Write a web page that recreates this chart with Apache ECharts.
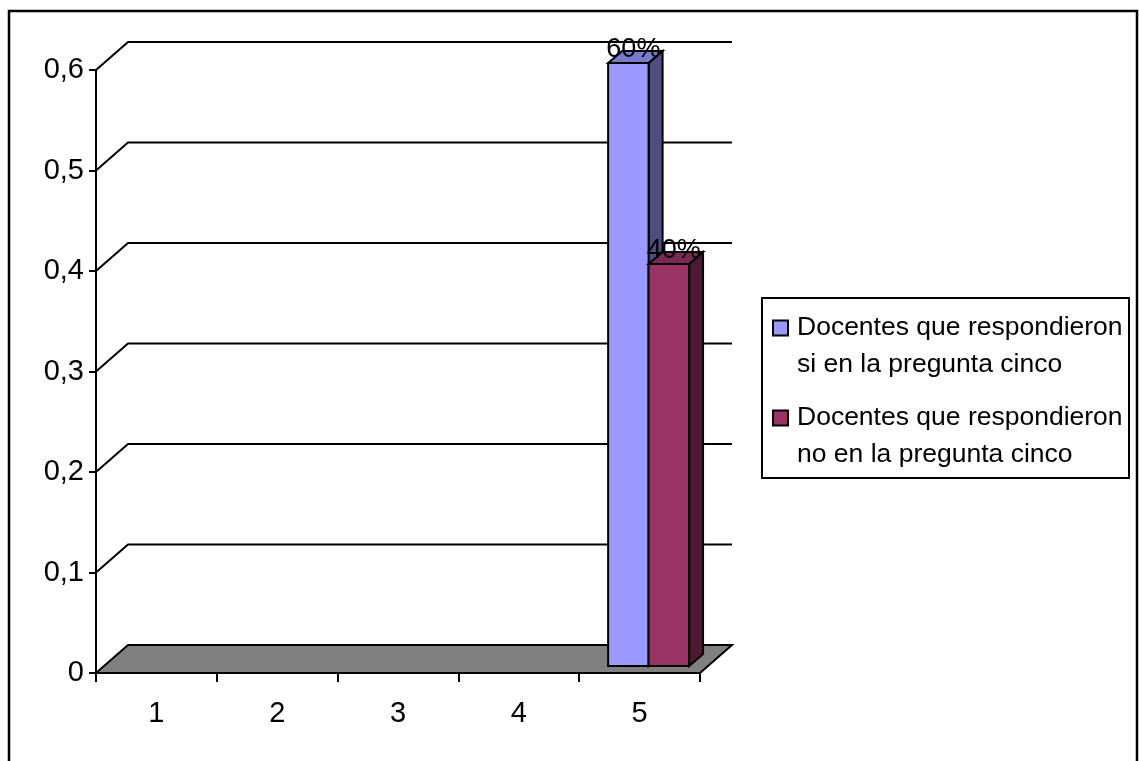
<!DOCTYPE html>
<html><head><meta charset="utf-8">
<script src="https://cdn.jsdelivr.net/npm/echarts@6/dist/echarts.min.js"></script>
<style>html,body{margin:0;padding:0;background:#fff}#c{width:1139px;height:761px}</style>
</head><body><div id="c"></div>
<script>
// ---- data ----
const categories = ['1', '2', '3', '4', '5'];
const seriesNames = ['Docentes que respondieron si en la pregunta cinco', 'Docentes que respondieron no en la pregunta cinco'];
const legendLines = [['Docentes que respondieron', 'si en la pregunta cinco'], ['Docentes que respondieron', 'no en la pregunta cinco']];
const siValues = [0, 0, 0, 0, 0.6];
const noValues = [0, 0, 0, 0, 0.4];
const yTickValues = [0, 0.1, 0.2, 0.3, 0.4, 0.5, 0.6];

// ---- style ----
const FONT = '"Liberation Sans", Arial, sans-serif';
const palettes = [
  { front: '#9999FF', top: '#7A7ACC', side: '#4D4D80' },
  { front: '#993366', top: '#7A2952', side: '#4D1A33' }
];
const WALL = [32, -28];
const BAR_OFF = [8, -7];
const BAR_D = [14, -12];
const BAR_FRAC = 0.335;

function fmtY(v) { return v === 0 ? '0' : v.toFixed(1).replace('.', ','); }
function fmtPct(v) { return Math.round(v * 100) + '%'; }

function renderWalls(params, api) {
  const cs = params.coordSys;
  const v = api.value(1);
  const y = api.coord([0, v])[1];
  const x0 = cs.x, x1 = cs.x + cs.width;
  if (v === 0) {
    return {
      type: 'polygon',
      shape: { points: [[x0, y], [x0 + WALL[0], y + WALL[1]], [x1 + WALL[0], y + WALL[1]], [x1, y]] },
      style: { fill: '#808080', stroke: '#000', lineWidth: 2 }
    };
  }
  return {
    type: 'polyline',
    shape: { points: [[x0, y], [x0 + WALL[0], y + WALL[1]], [x1 + WALL[0], y + WALL[1]]] },
    style: { fill: null, stroke: '#000', lineWidth: 2 }
  };
}

function makeBarRenderer(si) {
  return function (params, api) {
    const idx = api.value(0), v = api.value(1);
    if (!v) return null;
    const c = api.coord([idx, v]);
    const base = api.coord([idx, 0]);
    const band = api.size([1, 0])[0];
    const w = band * BAR_FRAC;
    const L = c[0] - w + si * w + BAR_OFF[0] + 1;
    const R = L + w;
    const yt = c[1] + BAR_OFF[1];
    const yb = base[1] + BAR_OFF[1];
    const p = palettes[si];
    const st = { stroke: '#000', lineWidth: 2, lineJoin: 'miter' };
    return {
      type: 'group',
      children: [
        { type: 'polygon', shape: { points: [[R, yt], [R + BAR_D[0], yt + BAR_D[1]], [R + BAR_D[0], yb + BAR_D[1]], [R, yb]] },
          style: Object.assign({ fill: p.side }, st) },
        { type: 'polygon', shape: { points: [[L, yt], [R, yt], [R + BAR_D[0], yt + BAR_D[1]], [L + BAR_D[0], yt + BAR_D[1]]] },
          style: Object.assign({ fill: p.top }, st) },
        { type: 'rect', shape: { x: L, y: yt, width: w, height: yb - yt },
          style: Object.assign({ fill: p.front }, st) },
        { type: 'text', style: { text: fmtPct(v), x: L + w / 2 + 5, y: yt + BAR_D[1] - 1,
            align: 'center', verticalAlign: 'middle', font: '27px ' + FONT, fill: '#000' } }
      ]
    };
  };
}

const legendGraphics = [
  { type: 'rect', shape: { x: 762, y: 298, width: 367, height: 180 }, style: { fill: '#fff', stroke: '#000', lineWidth: 2 } }
];
legendLines.forEach(function (lines, i) {
  const cy = 328 + i * 90;
  legendGraphics.push({ type: 'rect', shape: { x: 773, y: cy - 7.5, width: 15, height: 15 },
    style: { fill: palettes[i].front, stroke: '#000', lineWidth: 2 } });
  legendGraphics.push({ type: 'text', x: 797, y: cy - 18.5,
    style: { text: lines.join('\n'), font: '26.5px ' + FONT, lineHeight: 37, fill: '#000', verticalAlign: 'top', align: 'left' } });
});

const chart = echarts.init(document.getElementById('c'), null, { renderer: 'canvas' });
chart.setOption({
  animation: false,
  backgroundColor: '#fff',
  grid: { left: 96, top: 70, width: 604, height: 603, containLabel: false },
  xAxis: {
    type: 'category', data: categories, boundaryGap: true,
    axisLine: { show: true, lineStyle: { color: '#000', width: 2 } },
    axisTick: { show: true, length: 9, inside: false, alignWithLabel: false, lineStyle: { color: '#000', width: 2 } },
    axisLabel: { color: '#000', fontSize: 29, fontFamily: FONT, margin: 26 },
    splitLine: { show: false }, z: 5
  },
  yAxis: {
    type: 'value', min: 0, max: 0.6, interval: 0.1,
    axisLine: { show: true, lineStyle: { color: '#000', width: 2 } },
    axisTick: { show: true, length: 7, lineStyle: { color: '#000', width: 2 } },
    axisLabel: { color: '#000', fontSize: 29, fontFamily: FONT, margin: 12, formatter: fmtY },
    splitLine: { show: false }, z: 5
  },
  graphic: [
    { type: 'rect', shape: { x: 9, y: 11, width: 1128, height: 770 }, style: { fill: null, stroke: '#000', lineWidth: 2.5 }, z: 100 }
  ].concat(legendGraphics),
  series: [
    { type: 'custom', name: 'walls', renderItem: renderWalls, clip: false, silent: true, z: 1,
      data: yTickValues.map(function (v) { return [0, v]; }) },
    { type: 'custom', name: seriesNames[0], renderItem: makeBarRenderer(0), clip: false, z: 3,
      data: siValues.map(function (v, i) { return [i, v]; }) },
    { type: 'custom', name: seriesNames[1], renderItem: makeBarRenderer(1), clip: false, z: 3,
      data: noValues.map(function (v, i) { return [i, v]; }) }
  ]
});
</script>
</body></html>
